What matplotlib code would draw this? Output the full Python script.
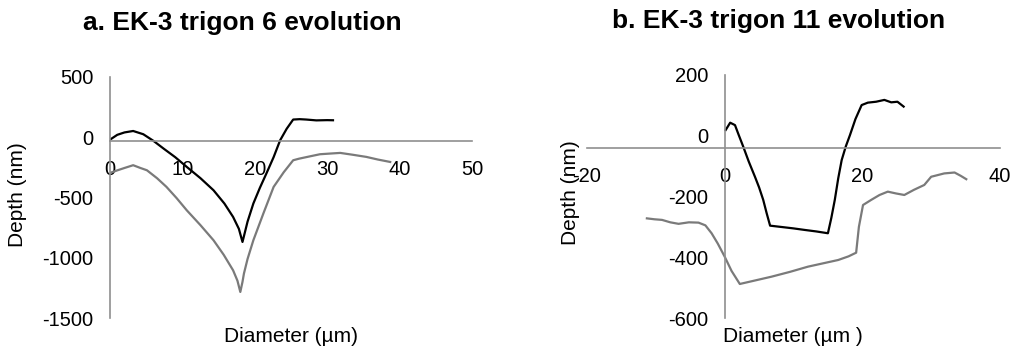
import matplotlib
matplotlib.use("Agg")
import matplotlib.pyplot as plt

plt.rcParams['font.family'] = ['Liberation Sans', 'DejaVu Sans']
plt.rcParams['axes.unicode_minus'] = False

# ---- Panel a data: EK-3 trigon 6 ----
a_black_x = [0, 1.0, 2.0, 3.2, 4.6, 6.0, 7.4, 9.0, 10.6, 12.5, 14.3, 15.8, 17.0, 17.8, 18.3, 19.0, 19.8, 20.7, 21.6, 22.6, 23.5, 24.4, 25.3, 26.2, 27.1, 28.5, 30.0, 30.8]
a_black_y = [-20, 20, 40, 52, 25, -30, -94, -165, -246, -340, -440, -550, -661, -760, -869, -700, -550, -420, -301, -165, -25, 70, 147, 150, 147, 140, 142, 141]

a_gray_x = [0, 1.0, 2.0, 3.2, 4.2, 5.1, 6.5, 7.8, 9.2, 10.6, 12.5, 14.3, 15.7, 17.0, 17.6, 18.0, 18.3, 18.5, 19.0, 19.8, 21.2, 22.6, 24.0, 25.3, 26.1, 27.5, 29.0, 30.5, 31.8, 33.5, 35.4, 37.0, 38.7]
a_gray_y = [-296, -275, -255, -232, -255, -274, -340, -412, -505, -606, -730, -855, -975, -1104, -1190, -1284, -1200, -1131, -1010, -855, -630, -412, -290, -191, -178, -160, -141, -135, -130, -145, -163, -185, -205]

a_xticks = [0, 10, 20, 30, 40, 50]
a_yticks = [500, 0, -500, -1000, -1500]

# ---- Panel b data: EK-3 trigon 11 ----
b_black_x = [0.15, 0.8, 1.5, 2.0, 2.7, 3.5, 4.4, 5.0, 5.6, 6.1, 6.6, 8.5, 10.0, 11.6, 13.3, 15.0, 15.5, 16.0, 16.5, 17.0, 17.6, 18.2, 19.0, 19.9, 20.8, 22.0, 23.2, 24.2, 25.1, 26.0]
b_black_y = [19, 43, 35, 5, -36, -85, -135, -170, -211, -255, -296, -301, -305, -310, -315, -321, -270, -211, -140, -80, -35, 2, 55, 101, 109, 112, 118, 110, 112, 96]

b_gray_x = [-11.3, -10.2, -9.1, -7.9, -6.7, -5.2, -3.8, -2.8, -1.9, -1.0, 0.0, 1.0, 2.2, 4.5, 6.8, 9.5, 12.1, 14.3, 16.5, 18.0, 19.1, 19.5, 20.1, 21.3, 22.5, 23.7, 24.9, 26.1, 27.5, 29.0, 30.0, 31.9, 33.4, 34.3, 35.1]
b_gray_y = [-272, -275, -277, -285, -290, -285, -286, -295, -321, -355, -398, -445, -488, -476, -464, -448, -431, -420, -409, -397, -385, -300, -228, -211, -195, -184, -190, -195, -178, -162, -135, -124, -121, -132, -143]

b_xticks = [-20, 0, 20, 40]
b_yticks = [200, 0, -200, -400, -600]

W, H = 1015, 347
fig = plt.figure(figsize=(W / 100, H / 100), dpi=100)

AXIS_COL = '#8f8f8f'
GRAY = '#7a7a7a'
TICK_FS = 14.5
LABEL_FS = 15
TITLE_FS = 19


def px_axes(x0, x1, y0, y1):
    return fig.add_axes([x0 / W, 1 - y1 / H, (x1 - x0) / W, (y1 - y0) / H])


def style(ax, xlim, ylim, xticks, yticks, cross_px):
    ax.set_xlim(*xlim)
    ax.set_ylim(*ylim)
    for s in ['top', 'right']:
        ax.spines[s].set_visible(False)
    ax.spines['left'].set_position(('data', 0))
    # horizontal axis drawn slightly below the zero label, as in the source figure
    ax.spines['bottom'].set_position(('axes', cross_px))
    for s in ['left', 'bottom']:
        ax.spines[s].set_color(AXIS_COL)
        ax.spines[s].set_linewidth(1.2)
    ax.set_xticks(xticks)
    ax.set_yticks(yticks)
    ax.set_xticklabels([str(v) for v in xticks])
    ax.set_yticklabels([str(v) for v in yticks])
    ax.tick_params(axis='x', length=0, pad=13.5, labelsize=TICK_FS)
    ax.tick_params(axis='y', length=0, pad=12, labelsize=TICK_FS)
    ax.patch.set_alpha(0)


# Panel a
ax1 = px_axes(110, 472, 77, 318)
ax1.plot(a_gray_x, a_gray_y, color=GRAY, lw=1.6)
ax1.plot(a_black_x, a_black_y, color='black', lw=1.6)
style(ax1, (0, 50), (-1500, 500), a_xticks, a_yticks, (318 - 141) / (318 - 77))

# Panel b
ax2 = px_axes(587, 1000, 75, 318)
ax2.plot(b_gray_x, b_gray_y, color=GRAY, lw=1.6)
ax2.plot(b_black_x, b_black_y, color='black', lw=1.6)
style(ax2, (-20, 40), (-600, 200), b_xticks, b_yticks, (318 - 148) / (318 - 75))

# Titles and axis labels
fig.text(242 / W, 1 - 23 / H, 'a. EK-3 trigon 6 evolution', ha='center', va='center',
         fontsize=TITLE_FS, fontweight='bold')
fig.text(779 / W, 1 - 21 / H, 'b. EK-3 trigon 11 evolution', ha='center', va='center',
         fontsize=TITLE_FS, fontweight='bold')
fig.text(291 / W, 1 - 336 / H, 'Diameter (µm)', ha='center', va='center', fontsize=LABEL_FS)
fig.text(793 / W, 1 - 336 / H, 'Diameter (µm )', ha='center', va='center', fontsize=LABEL_FS)
fig.text(18 / W, 1 - 195 / H, 'Depth (nm)', ha='center', va='center', rotation=90, fontsize=LABEL_FS)
fig.text(570 / W, 1 - 193 / H, 'Depth (nm)', ha='center', va='center', rotation=90, fontsize=LABEL_FS)

fig.savefig('out.png', dpi=100)
